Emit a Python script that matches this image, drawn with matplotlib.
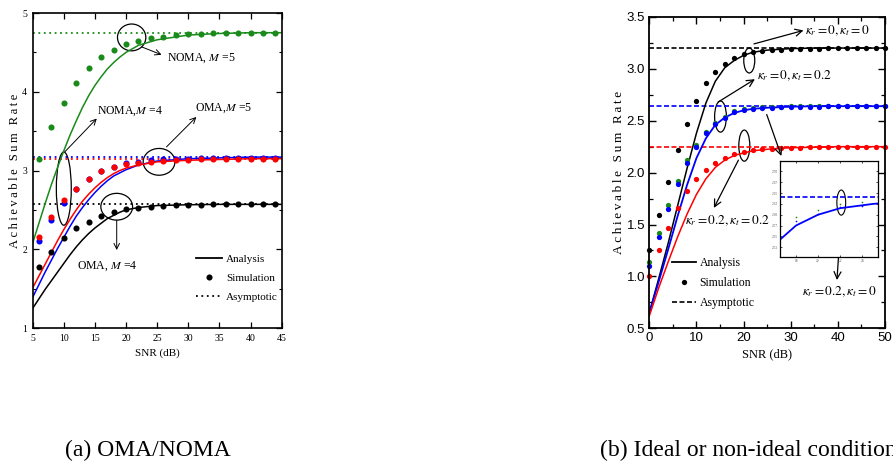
import numpy as np
import matplotlib
import matplotlib.pyplot as plt
from matplotlib.patches import Ellipse
from matplotlib.lines import Line2D
from matplotlib import font_manager

plt.rcParams['font.family'] = 'Liberation Serif'
plt.rcParams['mathtext.fontset'] = 'stix'

try:
    font_manager.findfont('Liberation Sans Narrow', fallback_to_default=False)
    tick_font = 'Liberation Sans Narrow'
except Exception:
    tick_font = 'Liberation Sans'

# ---------------- (a) OMA/NOMA ----------------
snr_a_line = [5, 6, 7, 8, 9, 10, 11, 12, 13, 14, 15, 16, 17, 18, 19, 20, 22, 25, 30, 35, 40, 45]
noma5_line = [2.08, 2.33, 2.58, 2.82, 3.04, 3.25, 3.45, 3.63, 3.80, 3.95, 4.08, 4.19, 4.29, 4.37,
              4.44, 4.50, 4.59, 4.66, 4.72, 4.74, 4.75, 4.75]
noma4_line = [1.51, 1.66, 1.81, 1.96, 2.11, 2.25, 2.38, 2.50, 2.61, 2.70, 2.78, 2.85, 2.91, 2.96,
              3.00, 3.03, 3.07, 3.11, 3.13, 3.14, 3.15, 3.15]
oma5_line = [1.39, 1.55, 1.71, 1.86, 2.01, 2.15, 2.29, 2.42, 2.53, 2.63, 2.72, 2.80, 2.87, 2.93,
             2.97, 3.01, 3.07, 3.12, 3.15, 3.16, 3.17, 3.17]
oma4_line = [1.25, 1.37, 1.49, 1.60, 1.71, 1.82, 1.93, 2.03, 2.12, 2.20, 2.27, 2.33, 2.39, 2.43,
             2.47, 2.50, 2.53, 2.555, 2.565, 2.57, 2.57, 2.57]

snr_a_sim = list(range(6, 45, 2))
noma5_sim = [3.15, 3.55, 3.86, 4.11, 4.30, 4.44, 4.53, 4.61, 4.65, 4.68, 4.70, 4.72, 4.73, 4.73,
             4.74, 4.74, 4.74, 4.74, 4.74, 4.74]
noma4_sim = [2.15, 2.41, 2.62, 2.77, 2.89, 2.99, 3.05, 3.08, 3.10, 3.11, 3.12, 3.13, 3.13, 3.14,
             3.14, 3.14, 3.14, 3.14, 3.14, 3.14]
oma5_sim = [2.10, 2.37, 2.59, 2.76, 2.89, 2.99, 3.05, 3.09, 3.11, 3.13, 3.14, 3.15, 3.15, 3.16,
            3.16, 3.16, 3.16, 3.16, 3.16, 3.16]
oma4_sim = [1.78, 1.97, 2.14, 2.27, 2.35, 2.42, 2.47, 2.51, 2.53, 2.54, 2.55, 2.56, 2.56, 2.56,
            2.57, 2.57, 2.57, 2.57, 2.57, 2.57]

asym_a = {'green': 4.74, 'blue': 3.17, 'red': 3.14, 'black': 2.57}

# ---------------- (b) ideal / non-ideal ----------------
snr_b_line = [0, 2, 4, 6, 8, 10, 12, 14, 16, 18, 20, 22, 25, 30, 35, 40, 45, 50]
k00_line = [0.65, 0.98, 1.32, 1.68, 2.04, 2.38, 2.67, 2.88, 3.01, 3.08, 3.13, 3.16, 3.18, 3.195,
            3.2, 3.2, 3.2, 3.2]
k002_line = [0.65, 0.95, 1.26, 1.58, 1.88, 2.14, 2.33, 2.46, 2.53, 2.575, 2.60, 2.615, 2.625,
             2.635, 2.64, 2.64, 2.64, 2.64]
k0202_line = [0.62, 0.89, 1.14, 1.38, 1.60, 1.79, 1.94, 2.05, 2.12, 2.165, 2.19, 2.21, 2.225,
              2.24, 2.245, 2.25, 2.25, 2.25]

snr_b_sim = list(range(0, 51, 2))
k00_sim = [1.255, 1.59, 1.91, 2.22, 2.47, 2.69, 2.86, 2.97, 3.05, 3.10, 3.14, 3.16, 3.17, 3.18,
           3.185, 3.19, 3.19, 3.195, 3.195, 3.2, 3.2, 3.2, 3.2, 3.2, 3.2, 3.2]
k002_sim = [1.10, 1.38, 1.65, 1.89, 2.09, 2.25, 2.38, 2.47, 2.53, 2.586, 2.601, 2.617, 2.62,
            2.625, 2.63, 2.63, 2.635, 2.635, 2.635, 2.64, 2.64, 2.64, 2.64, 2.64, 2.64, 2.64]
k020_sim = [1.14, 1.42, 1.69, 1.92, 2.12, 2.27, 2.39, 2.48, 2.54, 2.594, 2.61, 2.624, 2.63,
            2.633, 2.636, 2.638, 2.64, 2.64, 2.64, 2.64, 2.64, 2.64, 2.64, 2.64, 2.64, 2.64]
k0202_sim = [1.00, 1.25, 1.47, 1.66, 1.82, 1.94, 2.03, 2.09, 2.14, 2.18, 2.20, 2.215, 2.225,
             2.23, 2.235, 2.24, 2.24, 2.245, 2.245, 2.25, 2.25, 2.25, 2.25, 2.25, 2.25, 2.25]

asym_b = {'black': 3.2, 'blue': 2.64, 'red': 2.25}

GREEN = '#1a8a1a'
BLUE = '#0000ff'
RED = '#ff0000'

fig = plt.figure(figsize=(8.93, 4.61), dpi=100)

ylab = '\u2009'.join('Achievable Sum Rate')

# ===== left panel =====
ax1 = fig.add_axes([0.0366, 0.2885, 0.2788, 0.6833])
for c, v in [('blue', asym_a['blue']), ('red', asym_a['red']), ('black', asym_a['black']),
             ('green', asym_a['green'])]:
    col = {'blue': BLUE, 'red': RED, 'black': 'black', 'green': GREEN}[c]
    ax1.axhline(v, color=col, ls=(0, (1, 2)), lw=1.3)
ax1.plot(snr_a_line, noma5_line, color=GREEN, lw=1.1)
ax1.plot(snr_a_line, oma5_line, color=BLUE, lw=1.1)
ax1.plot(snr_a_line, noma4_line, color=RED, lw=1.1)
ax1.plot(snr_a_line, oma4_line, color='black', lw=1.1)
ms = 4.4
ax1.plot(snr_a_sim, noma5_sim, 'o', color=GREEN, ms=ms, mec='none', clip_on=False)
ax1.plot(snr_a_sim, oma5_sim, 'o', color=BLUE, ms=ms, mec='none')
ax1.plot(snr_a_sim, noma4_sim, 'o', color=RED, ms=ms, mec='none')
ax1.plot(snr_a_sim, oma4_sim, 'o', color='black', ms=ms, mec='none')

ax1.set_xlim(5, 45)
ax1.set_ylim(1, 5)
ax1.set_xticks(range(5, 46, 5))
ax1.set_yticks([1, 2, 3, 4, 5])
ax1.set_yticks(np.arange(1.5, 5, 1), minor=True)
ax1.tick_params(direction='in', top=True, right=True, labelsize=7, length=4, width=0.9, pad=4)
ax1.tick_params(which='minor', direction='in', right=True, length=2.5, width=0.8)
for s in ax1.spines.values():
    s.set_linewidth(1.2)
ax1.set_xlabel('SNR (dB)', fontsize=8, labelpad=4)
ax1.set_ylabel(ylab, fontsize=9, labelpad=1)

# annotations left
akw = dict(arrowstyle='->', lw=0.7, color='black', shrinkA=0, shrinkB=0)
ax1.add_patch(Ellipse((20.9, 4.69), 4.55, 0.34, fill=False, lw=0.9))
ax1.annotate('', xy=(25.7, 4.47), xytext=(22.5, 4.57), arrowprops=akw)
ax1.text(26.5, 4.42, r'NOMA, $M$ =5', fontsize=8.5, va='center', ha='left')

ax1.add_patch(Ellipse((10.0, 2.77), 2.4, 0.93, fill=False, lw=0.9))
ax1.annotate('', xy=(15.3, 3.66), xytext=(10.2, 3.24), arrowprops=akw)
ax1.text(15.3, 3.75, r'NOMA,$M$ =4', fontsize=8.5, va='center', ha='left')

ax1.add_patch(Ellipse((25.3, 3.11), 5.1, 0.34, fill=False, lw=0.9))
ax1.annotate('', xy=(31.3, 3.68), xytext=(26.5, 3.30), arrowprops=akw)
ax1.text(31.1, 3.79, r'OMA,$M$ =5', fontsize=8.5, va='center', ha='left')

ax1.add_patch(Ellipse((18.5, 2.54), 5.1, 0.34, fill=False, lw=0.9))
ax1.annotate('', xy=(18.5, 1.99), xytext=(18.5, 2.37), arrowprops=akw)
ax1.text(16.9, 1.79, r'OMA, $M$ =4', fontsize=8.5, va='center', ha='center')

h1 = [Line2D([], [], color='black', lw=1.3),
      Line2D([], [], color='black', marker='o', ls='none', ms=4.4, mec='none'),
      Line2D([], [], color='black', ls=(0, (1, 2)), lw=1.3)]
ax1.legend(h1, ['Analysis', 'Simulation', 'Asymptotic'], loc='upper left',
           bbox_to_anchor=(0.655, 0.233), frameon=False, fontsize=8, handlelength=2.4,
           handletextpad=0.3, labelspacing=0.8, borderpad=0, borderaxespad=0)

# ===== right panel =====
ax2 = fig.add_axes([0.7271, 0.2878, 0.264, 0.6755])


def draw_b(ax, msz, clip):
    ax.axhline(asym_b['black'], color='black', ls=(0, (3, 1.5)), lw=1.2)
    ax.axhline(asym_b['blue'], color=BLUE, ls=(0, (3, 1.5)), lw=1.2)
    ax.axhline(asym_b['red'], color=RED, ls=(0, (3, 1.5)), lw=1.2)
    ax.plot(snr_b_line, k00_line, color='black', lw=1.1)
    ax.plot(snr_b_line, k002_line, color=BLUE, lw=1.3)
    ax.plot(snr_b_line, k0202_line, color=RED, lw=1.1)
    ax.plot(snr_b_sim, k00_sim, 'o', color='black', ms=msz, mec='none', clip_on=clip)
    ax.plot(snr_b_sim, k020_sim, 'o', color=GREEN, ms=msz, mec='none', clip_on=clip)
    ax.plot(snr_b_sim, k002_sim, 'o', color=BLUE, ms=msz, mec='none', clip_on=clip)
    ax.plot(snr_b_sim, k0202_sim, 'o', color=RED, ms=msz, mec='none', clip_on=clip)


draw_b(ax2, 3.8, False)
ax2.set_xlim(0, 50)
ax2.set_ylim(0.5, 3.5)
ax2.set_xticks(range(0, 51, 10))
ax2.set_xticks(range(5, 50, 10), minor=True)
ax2.set_yticks(np.arange(0.5, 3.51, 0.5))
ax2.set_yticks(np.arange(0.75, 3.5, 0.5), minor=True)
ax2.yaxis.set_major_formatter(matplotlib.ticker.FormatStrFormatter('%.1f'))
ax2.tick_params(direction='in', top=True, right=True, labelsize=9.5, length=5, width=1.0, pad=3)
ax2.tick_params(which='minor', direction='in', top=True, right=True, length=3, width=0.9)
for lab in ax2.get_xticklabels() + ax2.get_yticklabels():
    lab.set_family(tick_font)
for s in ax2.spines.values():
    s.set_linewidth(1.3)
ax2.set_xlabel('SNR (dB)', fontsize=9, labelpad=3)
ax2.set_ylabel(ylab, fontsize=9.5, labelpad=1)

bkw = dict(arrowstyle='->,head_length=0.5,head_width=0.25', lw=0.9, color='black',
           shrinkA=0, shrinkB=0)
ax2.add_patch(Ellipse((21.2, 3.08), 2.33, 0.24, fill=False, lw=0.9))
ax2.annotate('', xy=(32.7, 3.37), xytext=(22.2, 3.24), arrowprops=bkw)
ax2.text(33.0, 3.37, r'$\kappa_r=0,\kappa_t=0$', fontsize=9.5, va='center', ha='left')

ax2.add_patch(Ellipse((15.1, 2.54), 2.5, 0.30, fill=False, lw=0.9))
ax2.annotate('', xy=(22.4, 2.90), xytext=(14.6, 2.68), arrowprops=bkw)
ax2.text(22.8, 2.93, r'$\kappa_r=0,\kappa_t=0.2$', fontsize=9.5, va='center', ha='left')

ax2.add_patch(Ellipse((20.15, 2.26), 2.33, 0.30, fill=False, lw=0.9))
ax2.annotate('', xy=(13.7, 1.66), xytext=(18.9, 2.12), arrowprops=bkw)
ax2.text(7.6, 1.54, r'$\kappa_r=0.2,\kappa_t=0.2$', fontsize=9.5, va='center', ha='left')

ax2.annotate('', xy=(28.0, 2.16), xytext=(24.9, 2.56), arrowprops=bkw)

ax2.annotate('', xy=(39.8, 0.965), xytext=(40.7, 1.58), arrowprops=bkw)
ax2.text(40.4, 0.85, r'$\kappa_r=0.2,\kappa_t=0$', fontsize=9.5, va='center', ha='center')

h2 = [Line2D([], [], color='black', lw=1.3),
      Line2D([], [], color='black', marker='o', ls='none', ms=3.8, mec='none'),
      Line2D([], [], color='black', ls=(0, (3, 1.5)), lw=1.2)]
ax2.legend(h2, ['Analysis', 'Simulation', 'Asymptotic'], loc='upper left',
           bbox_to_anchor=(0.095, 0.23), frameon=False, fontsize=8.5, handlelength=2.1,
           handletextpad=0.25, labelspacing=0.7, borderpad=0, borderaxespad=0)

# inset
axin = fig.add_axes([780 / 893, (461 - 256.7) / 461, 97.7 / 893, 95.7 / 461])
draw_b(axin, 1.2, True)
axin.set_xlim(16.55, 25.4)
axin.set_ylim(2.503, 2.724)
axin.set_xticks([18, 20, 22, 24])
axin.set_yticks(np.arange(2.525, 2.724, 0.025))
axin.yaxis.set_major_formatter(matplotlib.ticker.FormatStrFormatter('%.2f'))
axin.tick_params(direction='in', top=True, right=True, labelsize=2.5, length=1.5, width=0.5,
                 pad=1.5, labelcolor='#555555')
for s in axin.spines.values():
    s.set_linewidth(0.9)
axin.add_patch(Ellipse((22.1, 2.628), 0.8, 0.058, fill=False, lw=0.8))

fig.text(65 / 893, 0.022, '(a) OMA/NOMA', fontsize=17, va='center', ha='left')
fig.text(600 / 893, 0.022, '(b) Ideal or non-ideal conditions', fontsize=17, va='center',
         ha='left')

fig.savefig('out.png', dpi=100)
